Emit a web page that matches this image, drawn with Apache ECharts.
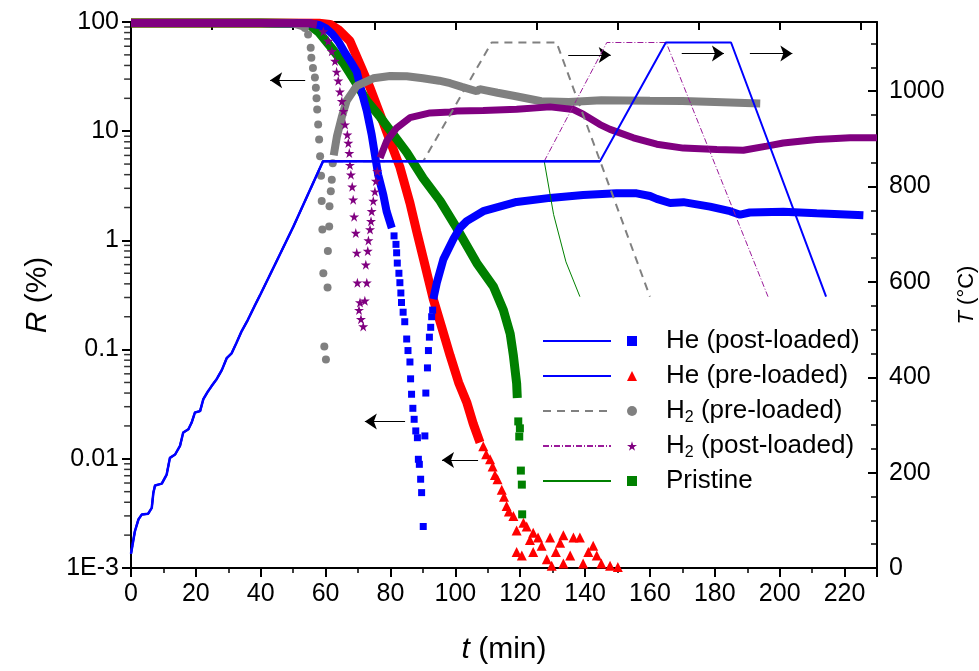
<!DOCTYPE html>
<html><head><meta charset="utf-8">
<script src="https://cdn.jsdelivr.net/npm/echarts@6/dist/echarts.min.js"></script>
<style>html,body{margin:0;padding:0;background:#fff}#c{width:979px;height:671px}</style>
</head><body><div id="c"></div>
<script>
// ---------- R (%) data, left log axis: [t (min), R (%)] ----------
const hePostFall = [[0,98],[20,98],[40,98],[55,97],[58,94],[60,88],[62,78],[64,66],[66,52],[68,42],[69.6,35],[71.1,23],[72.7,15.3],[74.2,9.3],[75.2,6.1],[76.2,4.0],[77.8,2.6],[78.8,1.85],[80.4,1.3]];
const hePostDots = [[81.1,1.1],[81.7,0.92],[81.9,0.77],[82.1,0.62],[82.6,0.5],[82.9,0.41],[83.2,0.33],[83.4,0.27],[83.9,0.22],[84.4,0.18],[85.0,0.125],[85.4,0.098],[86.0,0.077],[86.2,0.054],[86.5,0.039],[86.9,0.029],[87.3,0.023],[87.8,0.018],[88.3,0.0156],[88.6,0.0099],[88.9,0.0089],[89.3,0.0065],[89.6,0.0049],[90.1,0.0024],[90.6,0.0162],[90.9,0.04],[91.4,0.068],[91.7,0.098],[92.0,0.13],[92.4,0.16],[92.7,0.2],[93.0,0.23]];
const hePostRise = [[93.2,0.29],[94.3,0.41],[96.3,0.67],[99.4,1.03],[101.4,1.3],[103.5,1.5],[108.6,1.85],[118.9,2.25],[129.2,2.45],[139.4,2.6],[149.7,2.7],[155.9,2.7],[160,2.55],[162.1,2.4],[166.2,2.2],[170.3,2.24],[178.5,2.04],[184.7,1.85],[187.8,1.72],[190.8,1.8],[201.1,1.83],[211.4,1.77],[225.8,1.7]];

const hePreBand = [[0,98],[20,98],[40,98],[58,97.5],[61.4,95],[64,85],[67.5,67],[70.6,41],[73.7,25],[76.8,14.3],[79.9,8.1],[82.9,4.7],[86,2.2],[88.1,1.2],[90.6,0.6],[93.2,0.29],[95.8,0.16],[98.4,0.088],[101,0.05],[103.5,0.033],[105.5,0.021],[107.6,0.0141]];
const hePreDots = [[108.6,0.013],[109.5,0.011],[110.7,0.0099],[111.5,0.0085],[112.2,0.0071],[113,0.0065],[114.3,0.0052],[115,0.0045],[115.8,0.0037],[116.5,0.0033],[117.9,0.003],[118.9,0.0022],[118.9,0.0014],[120.5,0.0013],[121,0.0026],[122.0,0.0024],[123,0.0018],[124.0,0.0021],[124.0,0.0014],[125.5,0.0019],[126.6,0.0016],[128.2,0.0012],[129.2,0.0019],[129.7,0.00105],[131,0.0014],[132.3,0.0017],[133.3,0.002],[133.3,0.0011],[135.4,0.0013],[136.4,0.0019],[138.4,0.0019],[139.4,0.0011],[141,0.0014],[142.5,0.0016],[143.6,0.0013],[145,0.0011],[147.7,0.00105],[150.1,0.00102]];

const h2PreTop = [[0,98],[20,98],[40,98],[50,97],[53.6,90]];
const h2PreDots = [[53.6,88],[54.6,77],[55.4,58],[55.6,47],[56.1,38],[56.7,31],[57,25],[57.2,20],[57.4,15.8],[57.7,11.5],[58,8.4],[58.3,5.9],[58.6,3.9],[58.8,2.3],[59,1.26],[59.3,0.5],[59.6,0.107],[60.1,0.081],[60.6,0.37],[60.7,0.8],[61.1,1.34],[61.2,2.05],[61.6,2.82],[61.9,3.6],[62.2,5.1]];
const h2PreRise = [[62.5,6],[63.5,9],[65,13.5],[66.5,19],[69.6,26],[74.7,30.5],[79.9,32],[85,31.8],[90,30.5],[95,29],[98.4,27.5],[102,25.5],[106.6,23.2],[107.5,24.3],[109,23.8],[113,22.5],[118.3,21],[126.5,18.8],[135,18.5],[145,19.2],[160,19],[170,18.9],[180,18.5],[194,17.9]];

const h2PostTop = [[0,98],[20,98],[40,98],[55,97.5],[57.3,95]];
const h2PostDots = [[59.3,82],[60.8,67],[61.9,54],[62.9,44],[63.4,35],[63.9,29],[64.4,23],[65.0,18.8],[65.5,15.3],[66.0,11.5],[66.7,9.3],[67.0,7.8],[67.3,6.3],[67.5,4.9],[67.8,4.0],[68.2,3.1],[68.5,2.36],[68.8,1.65],[69.3,1.17],[69.6,0.77],[69.8,0.41],[70.3,0.23],[70.6,0.27],[70.9,0.19],[71.6,0.163],[72.1,0.28],[72.7,0.41],[72.4,0.6],[73.0,0.8],[73.2,1.0],[73.7,1.26],[74.0,1.5],[74.2,1.85],[74.7,2.3],[75.2,2.8],[75.5,3.5],[75.9,4.3]];
const h2PostRise = [[76.8,5.7],[78.8,8.1],[81.9,10.7],[86.0,13.3],[92.2,14.7],[98.4,15],[100.4,15.3],[108.6,15.5],[118.9,15.9],[129.2,16.7],[136.4,15.8],[139.4,14.3],[144.6,11.5],[147.7,10.4],[154.9,8.7],[162.1,7.6],[170.3,7.0],[180.6,6.8],[188.8,6.7],[196.0,7.3],[201.1,7.8],[211.4,8.4],[221.7,8.7],[230,8.7]];

const pristineBand = [[0,98],[20,98],[40,98],[52,97],[55.2,93],[58,80],[61.4,60],[65.5,42],[69.6,27],[72.7,19],[76.8,13.5],[80.9,9.3],[85.0,6.4],[90.1,3.7],[95.3,2.3],[100.4,1.3],[106.6,0.62],[111.7,0.38],[114.8,0.23],[116.9,0.14],[117.9,0.088],[118.9,0.049],[119.1,0.036]];
const pristineDots = [[119.4,0.022],[119.9,0.019],[119.7,0.016],[120.2,0.0078],[120.5,0.0058],[120.6,0.0031]];

// ---------- T (°C) data, right axis: [t (min), T] ----------
const rampT = [[0,30],[1.2,77],[2.3,102],[3.3,112],[5.3,114],[6.4,126],[6.9,158],[7.4,173],[9.5,177],[11,196],[12,231],[13.6,238],[15.1,256],[16.1,284],[17.7,291],[18.7,305],[19.7,326],[21.3,329],[22.3,354],[23.5,368],[24.9,382],[26.4,396],[28,415],[29.5,440],[31,450],[32.5,472],[34,495],[36,520],[38,548],[40,575],[45,645],[50,715],[55,790],[59.2,853]];
const hePostTail = [[144.6,853],[164.9,1102],[185,1102],[214.3,569]];
const hePreTail = [[144.6,853]];
const h2PreTail = [[90.1,853],[111.2,1102],[131.2,1102],[160,569]];
const h2PostTail = [[127.4,853],[146.7,1102],[165,1102],[196.4,569]];
const pristineTail = [[127.4,853],[130.3,741],[134.1,642],[138.4,569]];

// ---------- annotations (arrows): [tFrom, tTo, value] ----------
const arrowsLeft = [[53.7,42.9,29.3],[84.5,72.1,0.022],[107,95.9,0.00975]];
const arrowsRight = [[134.8,147.9,1076],[169.8,182.8,1079],[190.8,203.9,1079]];

// ---------- labels ----------
const legendNames = ['He (post-loaded)','He (pre-loaded)','H2 (pre-loaded)','H2 (post-loaded)','Pristine'];
const xTicks = {min:0, max:230, interval:20};
const tTicks = {min:0, max:1145, interval:200};

const FONT = '"Liberation Sans", Arial, sans-serif';
const BLUE = '#0000FF', RED = '#FF0000', GREY = '#808080', PURPLE = '#800080', GREEN = '#008000';
const STAR = 'path://M50,0 L61,35 L98,35 L68,57 L79,91 L50,70 L21,91 L32,57 L2,35 L39,35 Z';

// minor ticks of the left log axis (2..9 in every decade), drawn just outside the axis line
const minorLog = [];
for (let e = -3; e <= 1; e++) for (let m = 2; m <= 9; m++) minorLog.push(m * Math.pow(10, e));
const minorTickT = -1.05;

function band(data, color, w, z) {
  return {type:'line', name:'', data:data, xAxisIndex:0, yAxisIndex:0, symbol:'none', silent:true,
    itemStyle:{color:color}, lineStyle:{color:color, width:w}, z:z, animation:false};
}
function dots(name, data, symbol, size, color, z) {
  return {type:'scatter', name:name, data:data, xAxisIndex:0, yAxisIndex:0, symbol:symbol, symbolSize:size,
    itemStyle:{color:color, opacity:1}, z:z, animation:false, silent:true};
}
function tline(name, data, color, w, type, z) {
  return {type:'line', name:name, data:data, xAxisIndex:0, yAxisIndex:1, symbol:'none', showSymbol:false, silent:true,
    itemStyle:{color:color}, lineStyle:{color:color, width:w, type:type}, z:z, animation:false};
}

const series = [
  band(hePreBand, RED, 9, 2),
  dots(legendNames[1], hePreDots, 'triangle', 10, RED, 2),
  band(pristineBand, GREEN, 9, 3),
  dots(legendNames[4], pristineDots, 'rect', 8, GREEN, 3),
  band(hePostFall, BLUE, 8, 4),
  dots(legendNames[0], hePostDots, 'rect', 7, BLUE, 4),
  band(hePostRise, BLUE, 8, 4),
  band(h2PreTop, GREY, 8, 5),
  dots(legendNames[2], h2PreDots, 'circle', 8, GREY, 5),
  band(h2PreRise, GREY, 8, 5),
  band(h2PostTop, PURPLE, 8, 6),
  dots(legendNames[3], h2PostDots, STAR, 10, PURPLE, 6),
  band(h2PostRise, PURPLE, 7, 6),
  tline('T5', rampT.concat(pristineTail), GREEN, 1, 'solid', 9),
  tline('T4', rampT.concat(h2PostTail), '#9A1A9A', 1, [6,2,1,2], 9),
  tline('T3', rampT.concat(h2PreTail), GREY, 2, [8,6], 9),
  tline('T2', rampT.concat(hePreTail), BLUE, 2.5, 'solid', 10),
  tline('T1', rampT.concat(hePostTail), BLUE, 2, 'solid', 10),
  {type:'scatter', name:'', silent:true, clip:false, animation:false, z:20, xAxisIndex:0, yAxisIndex:0,
   symbol:'rect', symbolSize:[7,1.5], itemStyle:{color:'#000'},
   data: minorLog.map(v => [minorTickT, v])}
];
// arrows
series[0].markLine = {silent:true, animation:false, symbol:['none','arrow'], symbolSize:12,
  lineStyle:{color:'#000', width:1.2, type:'solid'}, label:{show:false},
  data: arrowsLeft.map(a => [{coord:[a[0], a[2]]}, {coord:[a[1], a[2]]}])};
series[17].markLine = {silent:true, animation:false, symbol:['none','arrow'], symbolSize:12,
  lineStyle:{color:'#000', width:1.2, type:'solid'}, label:{show:false},
  data: arrowsRight.map(a => [{coord:[a[0], a[2]]}, {coord:[a[1], a[2]]}])};

const axisLineStyle = {color:'#000', width:2};
const italic = (fs) => ({fontFamily:FONT, fontSize:fs, color:'#000', rich:{i:{fontStyle:'italic', fontSize:fs, fontFamily:FONT, color:'#000'}}});

const option = {
  backgroundColor:'#fff',
  animation:false,
  textStyle:{fontFamily:FONT},
  grid:{left:131, right:102, top:22, bottom:103, containLabel:false, outerBoundsMode:'none'},
  legend:[
    {orient:'vertical', left:537, top:321, itemWidth:68, itemHeight:14, itemGap:5, selectedMode:false,
     itemStyle:{opacity:0},
     data:['T1','T2','T3','T4','T5'], formatter:() => ' ', textStyle:{fontSize:26, lineHeight:30, fontFamily:FONT}},
    {orient:'vertical', left:622, top:321, itemWidth:10, itemHeight:10, itemGap:5, selectedMode:false,
     data:legendNames,
     formatter:(n) => n.replace('H2', 'H{sub|2}'),
     textStyle:{fontSize:26, lineHeight:30, color:'#000', fontFamily:FONT, padding:[0,0,0,24],
       rich:{sub:{fontSize:16, lineHeight:30, verticalAlign:'bottom', fontFamily:FONT, color:'#000'}}}}
  ],
  xAxis:[
    {type:'value', position:'bottom', min:xTicks.min, max:xTicks.max, interval:xTicks.interval,
     axisLine:{onZero:false, lineStyle:axisLineStyle}, axisTick:{length:9, lineStyle:{width:2, color:'#000'}},
     minorTick:{show:true, splitNumber:2, length:5, lineStyle:{width:1.5, color:'#000'}},
     splitLine:{show:false},
     axisLabel:{fontSize:25, color:'#000', margin:14, fontFamily:FONT, showMaxLabel:false},
     name:'{i|t} (min)', nameLocation:'middle', nameGap:67, nameTextStyle:italic(30)},
    {type:'value', position:'top', min:xTicks.min, max:xTicks.max, interval:25,
     axisLine:{onZero:false, lineStyle:axisLineStyle}, axisTick:{inside:true, length:8, lineStyle:{width:2, color:'#000'}},
     axisLabel:{show:false}, splitLine:{show:false}}
  ],
  yAxis:[
    {type:'log', logBase:10, min:0.001, max:100, position:'left',
     axisLine:{show:true, onZero:false, lineStyle:axisLineStyle}, axisTick:{length:9, lineStyle:{width:2, color:'#000'}},
     splitLine:{show:false},
     axisLabel:{fontSize:25, color:'#000', margin:12, fontFamily:FONT,
       formatter:(v) => v >= 1 ? String(Math.round(v)) : (v < 0.0015 ? '1E-3' : String(Number(v.toPrecision(1))))},
     name:'{i|R} (%)', nameLocation:'middle', nameRotate:90, nameGap:78, nameTextStyle:italic(30)},
    {type:'value', position:'right', min:tTicks.min, max:tTicks.max, interval:tTicks.interval,
     axisLine:{show:true, onZero:false, lineStyle:axisLineStyle}, axisTick:{inside:true, length:9, lineStyle:{width:2, color:'#000'}},
     minorTick:{show:true, splitNumber:4, length:6, lineStyle:{width:1.5, color:'#000'}},
     splitLine:{show:false},
     axisLabel:{fontSize:25, color:'#000', margin:12, fontFamily:FONT, showMaxLabel:false, formatter:(v) => String(v)},
     name:'{i|T} (°C)', nameLocation:'middle', nameRotate:90, nameGap:70, nameTextStyle:italic(22)}
  ],
  series: series
};
const chart = echarts.init(document.getElementById('c'));
chart.setOption(option);
</script></body></html>
